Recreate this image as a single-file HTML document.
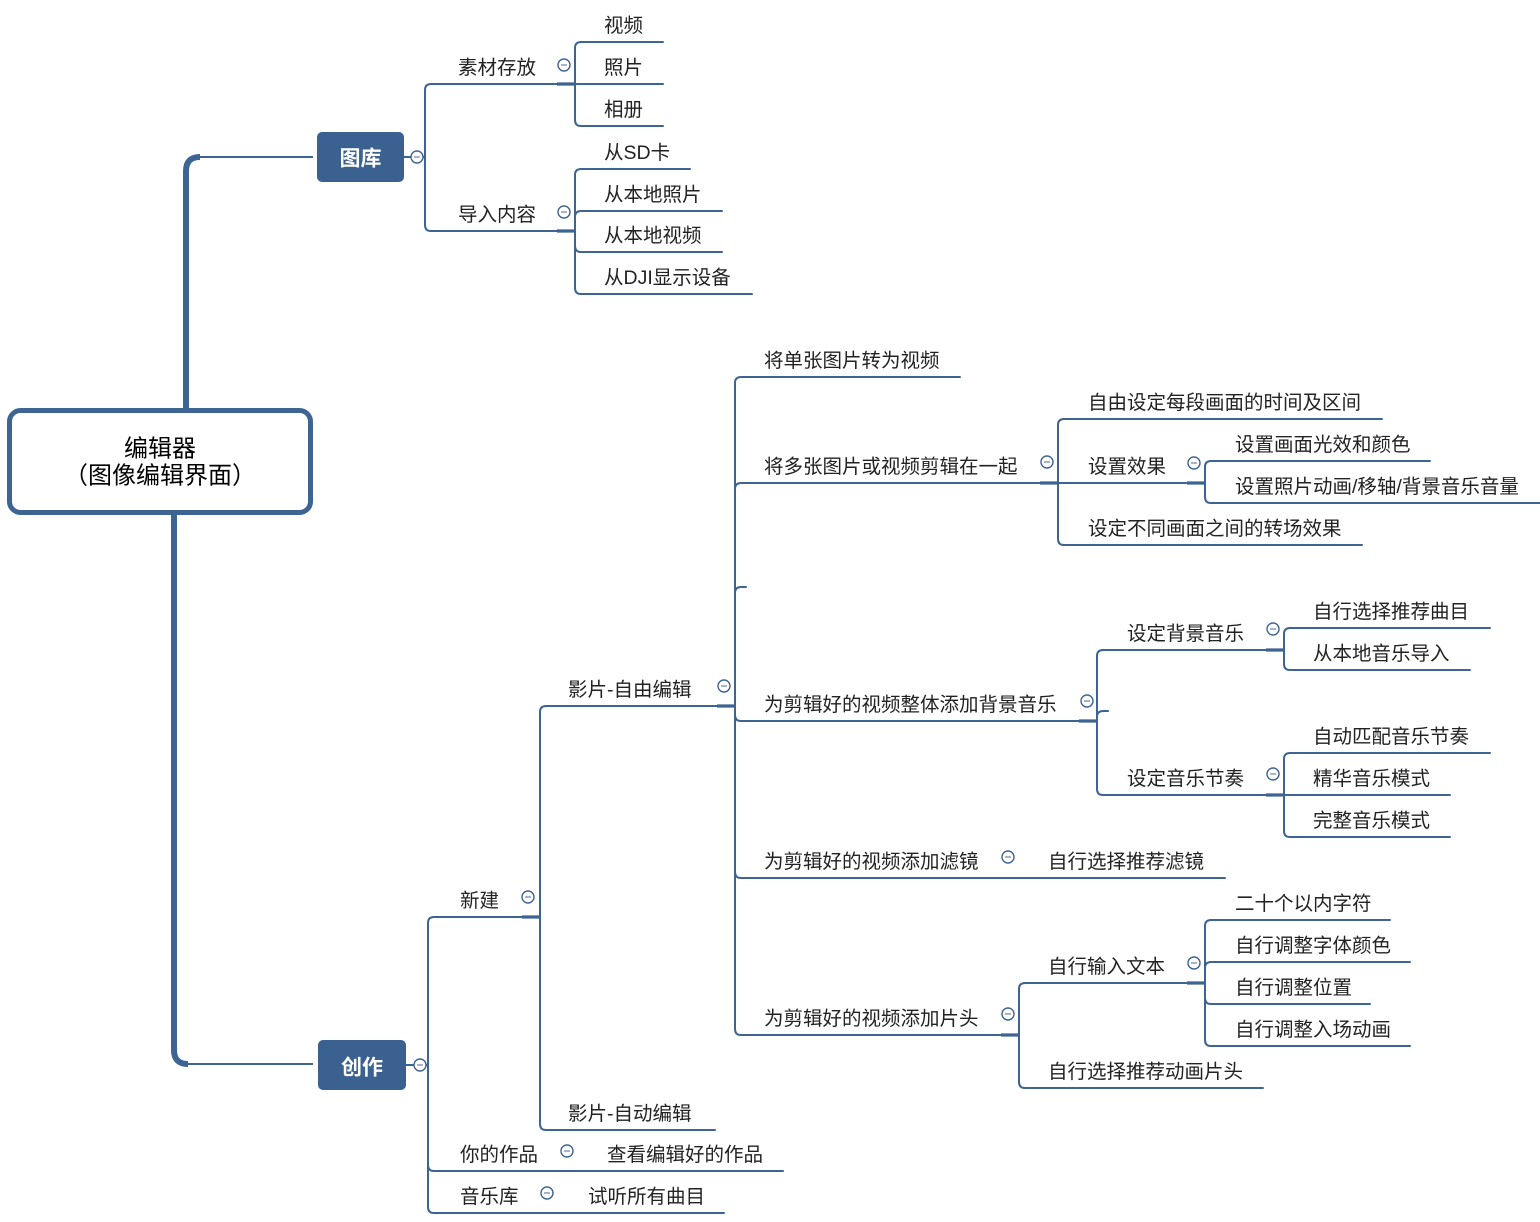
<!DOCTYPE html>
<html><head><meta charset="utf-8"><style>
html,body{margin:0;padding:0;background:#fff;}
svg{display:block;}
text{font-family:"Liberation Sans","Noto Sans CJK SC",sans-serif;font-size:19.5px;fill:#222;dominant-baseline:central;}
.ln{fill:none;stroke:#3d6493;stroke-width:2;stroke-linecap:round;}
.st{fill:none;stroke:#3d6493;stroke-width:3.2;}
.ic circle{fill:#fff;stroke:#3d6493;stroke-width:1.4;}
.ic line{stroke:#8fa2c0;stroke-width:1.6;}
</style></head><body>
<svg width="1540" height="1222" viewBox="0 0 1540 1222" xmlns="http://www.w3.org/2000/svg">
<defs>
<g id="ic" class="ic"><circle cx="0" cy="0" r="6"/><line x1="-3" y1="0" x2="3" y2="0"/></g>
</defs>

<!-- root connectors -->
<path d="M186 412 V171 Q186 157 200 157" fill="none" stroke="#3d6493" stroke-width="6"/>
<line x1="198" y1="157" x2="313" y2="157" stroke="#3d6493" stroke-width="2"/>
<path d="M174 513 V1050 Q174 1064 188 1064" fill="none" stroke="#3d6493" stroke-width="6"/>
<line x1="186" y1="1064" x2="313" y2="1064" stroke="#3d6493" stroke-width="2"/>

<!-- root node -->
<rect x="9.5" y="410.5" width="301" height="102" rx="11" fill="#fff" stroke="#3d6493" stroke-width="5"/>
<text x="160" y="449" text-anchor="middle" style="font-size:24px;fill:#000">编辑器</text>
<text x="160" y="476" text-anchor="middle" style="font-size:24px;fill:#000">（图像编辑界面）</text>

<!-- level1 nodes -->
<rect x="317" y="132" width="87" height="50" rx="5" fill="#3a6190"/>
<text x="360.5" y="159" text-anchor="middle" style="font-size:21px;fill:#fff;font-weight:bold">图库</text>
<rect x="318" y="1040" width="88" height="50" rx="5" fill="#3a6190"/>
<text x="362" y="1068" text-anchor="middle" style="font-size:21px;fill:#fff;font-weight:bold">创作</text>

<!-- 图库 branches -->
<path class="ln" d="M404 157 H425"/>
<path class="ln" d="M425 157 V90 Q425 84 431 84 H575"/>
<path class="ln" d="M425 157 V225 Q425 231 431 231 H575"/>
<path class="st" d="M557 84 H575 M557 231 H575"/>
<path class="ln" d="M575 84 V48 Q575 42 581 42 H663"/>
<path class="ln" d="M575 84 H663"/>
<path class="ln" d="M575 84 V120 Q575 126 581 126 H663"/>
<path class="ln" d="M575 231 V175 Q575 169 581 169 H690"/>
<path class="ln" d="M575 231 V217 Q575 211 581 211 H722"/>
<path class="ln" d="M575 231 V246 Q575 252 581 252 H722"/>
<path class="ln" d="M575 231 V288 Q575 294 581 294 H752"/>

<!-- 创作 branches -->
<path class="ln" d="M406 1065 H428"/>
<path class="ln" d="M428 1065 V923 Q428 917 434 917 H540"/>
<path class="ln" d="M428 1065 V1165 Q428 1171 434 1171 H783"/>
<path class="ln" d="M428 1065 V1207 Q428 1213 434 1213 H724"/>
<path class="st" d="M522 917 H540"/>

<path class="ln" d="M540 917 V712 Q540 706 546 706 H735"/>
<path class="ln" d="M540 917 V1124 Q540 1130 546 1130 H715"/>
<path class="st" d="M717 706 H735"/>

<path class="ln" d="M735 706 V383 Q735 377 741 377 H960"/>
<path class="ln" d="M735 706 V489 Q735 483 741 483 H1058"/>
<path class="ln" d="M735 706 V593 Q735 587 741 587 H746"/>
<path class="ln" d="M735 706 V715 Q735 721 741 721 H1097"/>
<path class="ln" d="M735 706 V872 Q735 878 741 878 H1225"/>
<path class="ln" d="M735 706 V1029 Q735 1035 741 1035 H1019"/>
<path class="st" d="M1040 483 H1058 M1079 721 H1097 M1001 1035 H1019"/>

<path class="ln" d="M1058 483 V425 Q1058 419 1064 419 H1382"/>
<path class="ln" d="M1058 483 H1205"/>
<path class="ln" d="M1058 483 V539 Q1058 545 1064 545 H1362"/>
<path class="st" d="M1187 483 H1205"/>
<path class="ln" d="M1205 483 V467 Q1205 461 1211 461 H1430"/>
<path class="ln" d="M1205 483 V497 Q1205 503 1211 503 H1540"/>

<path class="ln" d="M1097 721 V656 Q1097 650 1103 650 H1284"/>
<path class="ln" d="M1097 721 V717 Q1097 711 1103 711 H1108"/>
<path class="ln" d="M1097 721 V789 Q1097 795 1103 795 H1284"/>
<path class="st" d="M1266 650 H1284 M1266 795 H1284"/>
<path class="ln" d="M1284 650 V634 Q1284 628 1290 628 H1490"/>
<path class="ln" d="M1284 650 V664 Q1284 670 1290 670 H1470"/>
<path class="ln" d="M1284 795 V759 Q1284 753 1290 753 H1490"/>
<path class="ln" d="M1284 795 H1450"/>
<path class="ln" d="M1284 795 V831 Q1284 837 1290 837 H1450"/>

<path class="ln" d="M1019 1035 V989 Q1019 983 1025 983 H1205"/>
<path class="ln" d="M1019 1035 V1082 Q1019 1088 1025 1088 H1263"/>
<path class="st" d="M1187 983 H1205"/>
<path class="ln" d="M1205 983 V926 Q1205 920 1211 920 H1390"/>
<path class="ln" d="M1205 983 V968 Q1205 962 1211 962 H1410"/>
<path class="ln" d="M1205 983 V998 Q1205 1004 1211 1004 H1370"/>
<path class="ln" d="M1205 983 V1040 Q1205 1046 1211 1046 H1410"/>

<!-- collapse icons -->
<use href="#ic" x="417" y="157"/>
<use href="#ic" x="564" y="65"/>
<use href="#ic" x="564" y="212"/>
<use href="#ic" x="420" y="1065"/>
<use href="#ic" x="528" y="897"/>
<use href="#ic" x="567" y="1151"/>
<use href="#ic" x="547" y="1193"/>
<use href="#ic" x="724" y="686"/>
<use href="#ic" x="1047" y="462"/>
<use href="#ic" x="1087" y="701"/>
<use href="#ic" x="1008" y="857"/>
<use href="#ic" x="1008" y="1014"/>
<use href="#ic" x="1194" y="463"/>
<use href="#ic" x="1273" y="629"/>
<use href="#ic" x="1273" y="774"/>
<use href="#ic" x="1194" y="963"/>

<!-- labels -->
<g transform="translate(0,2)">
<text x="458" y="66">素材存放</text>
<text x="458" y="213">导入内容</text>
<text x="604" y="24">视频</text>
<text x="604" y="66">照片</text>
<text x="604" y="108">相册</text>
<text x="604" y="151">从SD卡</text>
<text x="604" y="193">从本地照片</text>
<text x="604" y="234">从本地视频</text>
<text x="604" y="276">从DJI显示设备</text>

<text x="460" y="899">新建</text>
<text x="460" y="1153">你的作品</text>
<text x="607" y="1153">查看编辑好的作品</text>
<text x="460" y="1195">音乐库</text>
<text x="588" y="1195">试听所有曲目</text>

<text x="568" y="688">影片-自由编辑</text>
<text x="568" y="1112">影片-自动编辑</text>

<text x="764" y="359">将单张图片转为视频</text>
<text x="764" y="465">将多张图片或视频剪辑在一起</text>
<text x="764" y="703">为剪辑好的视频整体添加背景音乐</text>
<text x="764" y="860">为剪辑好的视频添加滤镜</text>
<text x="1048" y="860">自行选择推荐滤镜</text>
<text x="764" y="1017">为剪辑好的视频添加片头</text>

<text x="1088" y="401">自由设定每段画面的时间及区间</text>
<text x="1088" y="465">设置效果</text>
<text x="1088" y="527">设定不同画面之间的转场效果</text>
<text x="1235" y="443">设置画面光效和颜色</text>
<text x="1235" y="485">设置照片动画/移轴/背景音乐音量</text>

<text x="1127" y="632">设定背景音乐</text>
<text x="1127" y="777">设定音乐节奏</text>
<text x="1313" y="610">自行选择推荐曲目</text>
<text x="1313" y="652">从本地音乐导入</text>
<text x="1313" y="735">自动匹配音乐节奏</text>
<text x="1313" y="777">精华音乐模式</text>
<text x="1313" y="819">完整音乐模式</text>

<text x="1048" y="965">自行输入文本</text>
<text x="1048" y="1070">自行选择推荐动画片头</text>
<text x="1235" y="902">二十个以内字符</text>
<text x="1235" y="944">自行调整字体颜色</text>
<text x="1235" y="986">自行调整位置</text>
<text x="1235" y="1028">自行调整入场动画</text>
</g>
</svg>
</body></html>
